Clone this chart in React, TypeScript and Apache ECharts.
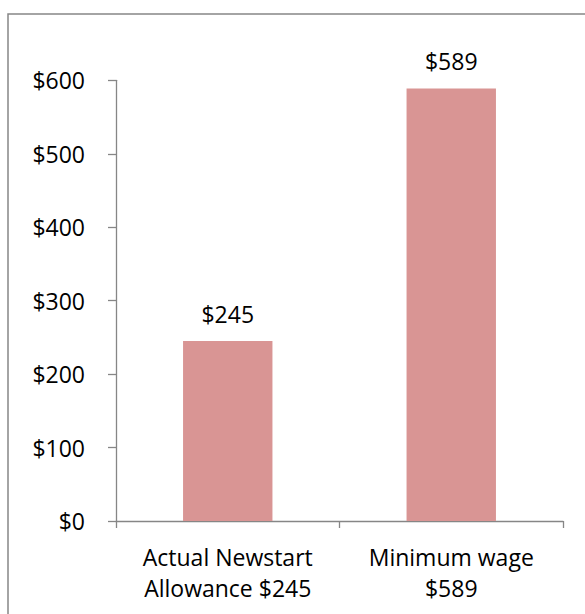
import React, { useEffect, useRef } from "react";
import * as echarts from "echarts";

const categories = ["Actual Newstart\nAllowance $245", "Minimum wage\n$589"];
const values = [245, 589];
const yTicks = [0, 100, 200, 300, 400, 500, 600];

const FONT = "'Open Sans', sans-serif";

export default function App() {
  const ref = useRef<HTMLDivElement>(null);
  useEffect(() => {
    if (!ref.current) return;
    const chart = echarts.init(ref.current, undefined, { renderer: "svg" });
    chart.setOption({
      animation: false,
      backgroundColor: "#ffffff",
      graphic: [
        {
          type: "rect",
          shape: { x: 8, y: 14, width: 700, height: 700 },
          style: { fill: "none", stroke: "#868686", lineWidth: 1.5 },
          silent: true,
        },
      ],
      grid: { left: 116, top: 80.3, right: 22, bottom: 93, containLabel: false },
      xAxis: {
        type: "category",
        data: categories,
        axisLine: { show: true, lineStyle: { color: "#868686", width: 1.3 } },
        axisTick: { show: true, alignWithLabel: false, length: 7, lineStyle: { color: "#868686", width: 1.3 } },
        axisLabel: {
          color: "#000",
          fontFamily: FONT,
          fontSize: 23,
          lineHeight: 31,
          margin: 20,
          interval: 0,
        },
      },
      yAxis: {
        type: "value",
        min: yTicks[0],
        max: yTicks[yTicks.length - 1],
        interval: 100,
        splitLine: { show: false },
        axisLine: { show: true, lineStyle: { color: "#868686", width: 1.3 } },
        axisTick: { show: true, length: 8, lineStyle: { color: "#868686", width: 1.3 } },
        axisLabel: {
          color: "#000",
          fontFamily: FONT,
          fontSize: 23,
          margin: 31,
          formatter: (v: number) => "$" + v,
        },
      },
      series: [
        {
          type: "bar",
          data: values,
          barWidth: "40%",
          itemStyle: { color: "#D99594" },
          label: {
            show: true,
            position: "top",
            distance: 16,
            color: "#000",
            fontFamily: FONT,
            fontSize: 23,
            formatter: (p: any) => "$" + p.value,
          },
        },
      ],
    });
    return () => chart.dispose();
  }, []);
  return (
    <div
      ref={ref}
      style={{ position: "fixed", left: 0, top: 0, width: 585, height: 614 }}
    />
  );
}
